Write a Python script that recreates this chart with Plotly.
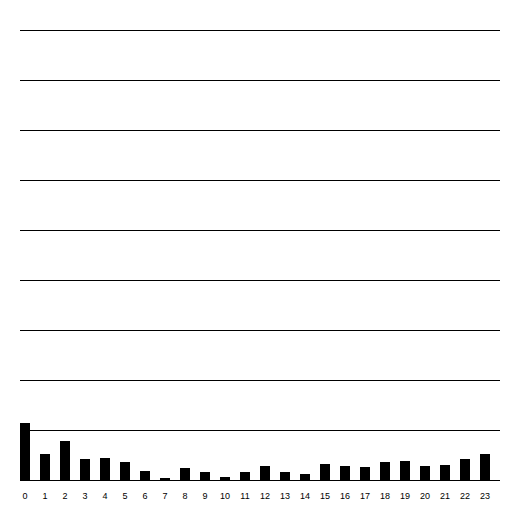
import plotly.graph_objects as go

hours = list(range(24))
hour_labels = [str(h) for h in hours]
counts = [57, 26, 39, 21, 22, 18, 9, 2, 12, 8, 3, 8, 14, 8, 6, 16, 14, 13, 18, 19, 14, 15, 21, 26]

fig = go.Figure(go.Bar(x=hours, y=counts, width=0.5, marker=dict(color="black", line=dict(width=0))))

fig.update_layout(
    width=512, height=512,
    margin=dict(l=20, r=12, t=28, b=32),
    paper_bgcolor="white", plot_bgcolor="white",
    showlegend=False,
    font=dict(family="Liberation Sans, Arial, sans-serif", size=9, color="black"),
)
fig.update_xaxes(
    range=[-0.25, 23.75], tickmode="array", tickvals=hours, ticktext=hour_labels,
    showgrid=False, zeroline=False, showline=True, linecolor="black", linewidth=1,
    ticks="", ticklen=0, tickfont=dict(size=9), ticklabelstandoff=7,
)
fig.update_yaxes(
    range=[0, 452], tickmode="array", tickvals=[50, 100, 150, 200, 250, 300, 350, 400, 450],
    showgrid=True, gridcolor="black", gridwidth=1,
    showticklabels=False, zeroline=False, showline=False, ticks="",
)
fig.write_html("out.html")
